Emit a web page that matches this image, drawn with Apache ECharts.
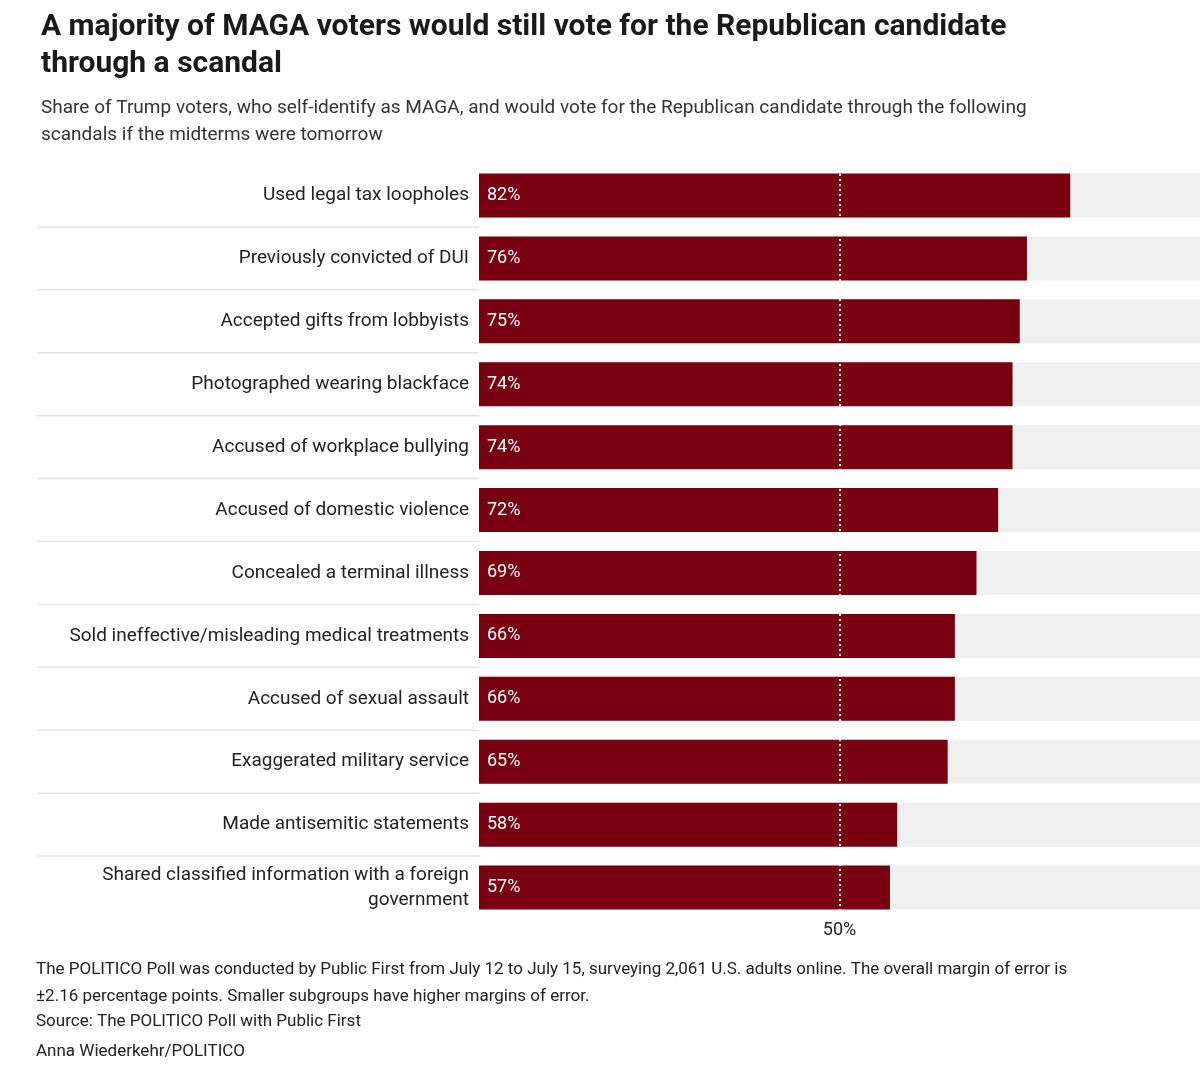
<!DOCTYPE html>
<html>
<head>
<meta charset="UTF-8">
<script src="https://cdn.jsdelivr.net/npm/echarts@6/dist/echarts.min.js"></script>
<style>html,body{margin:0;padding:0;background:#fff}#main{width:1200px;height:1081px}</style>
</head>
<body>
<div id="main"></div>
<script>
var categories = ['Used legal tax loopholes', 'Previously convicted of DUI', 'Accepted gifts from lobbyists',
  'Photographed wearing blackface', 'Accused of workplace bullying', 'Accused of domestic violence',
  'Concealed a terminal illness', 'Sold ineffective/misleading medical treatments', 'Accused of sexual assault',
  'Exaggerated military service', 'Made antisemitic statements', 'Shared classified information with a foreign\ngovernment'];
var shares = [82, 76, 75, 74, 74, 72, 69, 66, 66, 65, 58, 57];
var refLine = 50;

var chart = echarts.init(document.getElementById('main'));
var gridTop = 164, gridH = 755, rowH = gridH / categories.length;

// row separators in the label area
var seps = [];
for (var i = 1; i < categories.length; i++) {
  seps.push({ type: 'line', shape: { x1: 37, y1: gridTop + i * rowH, x2: 479, y2: gridTop + i * rowH },
    style: { stroke: '#e3e3e3', lineWidth: 1.5 } });
}
var font = 'Roboto, "Noto Sans", sans-serif';

chart.setOption({
  textStyle: { fontFamily: font },
  title: {
    text: 'A majority of MAGA voters would still vote for the Republican candidate\nthrough a scandal',
    subtext: 'Share of Trump voters, who self-identify as MAGA, and would vote for the Republican candidate through the following\nscandals if the midterms were tomorrow',
    left: 36, top: 4, itemGap: 12,
    textStyle: { fontSize: 30, fontWeight: 'bold', color: '#1a1a1a', lineHeight: 37, fontFamily: font },
    subtextStyle: { fontSize: 19, color: '#333', lineHeight: 27, fontFamily: font }
  },
  grid: { left: 479, width: 728, top: gridTop, height: gridH },
  xAxis: { type: 'value', min: 0, max: 100, show: false },
  yAxis: {
    type: 'category', data: categories, inverse: true,
    axisLine: { show: false }, axisTick: { show: false },
    axisLabel: { fontSize: 19, color: '#222', margin: 10, lineHeight: 25, align: 'right' }
  },
  series: [{
    type: 'bar', data: shares, barWidth: 44,
    itemStyle: { color: '#780010' },
    showBackground: true, backgroundStyle: { color: '#f0f0f0' },
    label: { show: true, position: 'insideLeft', distance: 8, color: '#fff', fontSize: 18, formatter: '{c}%' },
    markLine: {
      silent: true, symbol: 'none',
      lineStyle: { color: '#fff', type: [2, 3], width: 2 },
      label: { position: 'end', formatter: '50%', color: '#222', fontSize: 18, distance: 2 },
      data: [{ xAxis: refLine }]
    }
  }],
  graphic: seps.concat([
    { type: 'text', left: 36, top: 956, style: { text: 'The POLITICO Poll was conducted by Public First from July 12 to July 15, surveying 2,061 U.S. adults online. The overall margin of error is\n±2.16 percentage points. Smaller subgroups have higher margins of error.', fontSize: 17, lineHeight: 27, fill: '#222', fontFamily: font } },
    { type: 'text', left: 36, top: 1013, style: { text: 'Source: The POLITICO Poll with Public First', fontSize: 17, fill: '#222', fontFamily: font } },
    { type: 'text', left: 36, top: 1043, style: { text: 'Anna Wiederkehr/POLITICO', fontSize: 17, fill: '#222', fontFamily: font } }
  ])
});
</script>
</body>
</html>
